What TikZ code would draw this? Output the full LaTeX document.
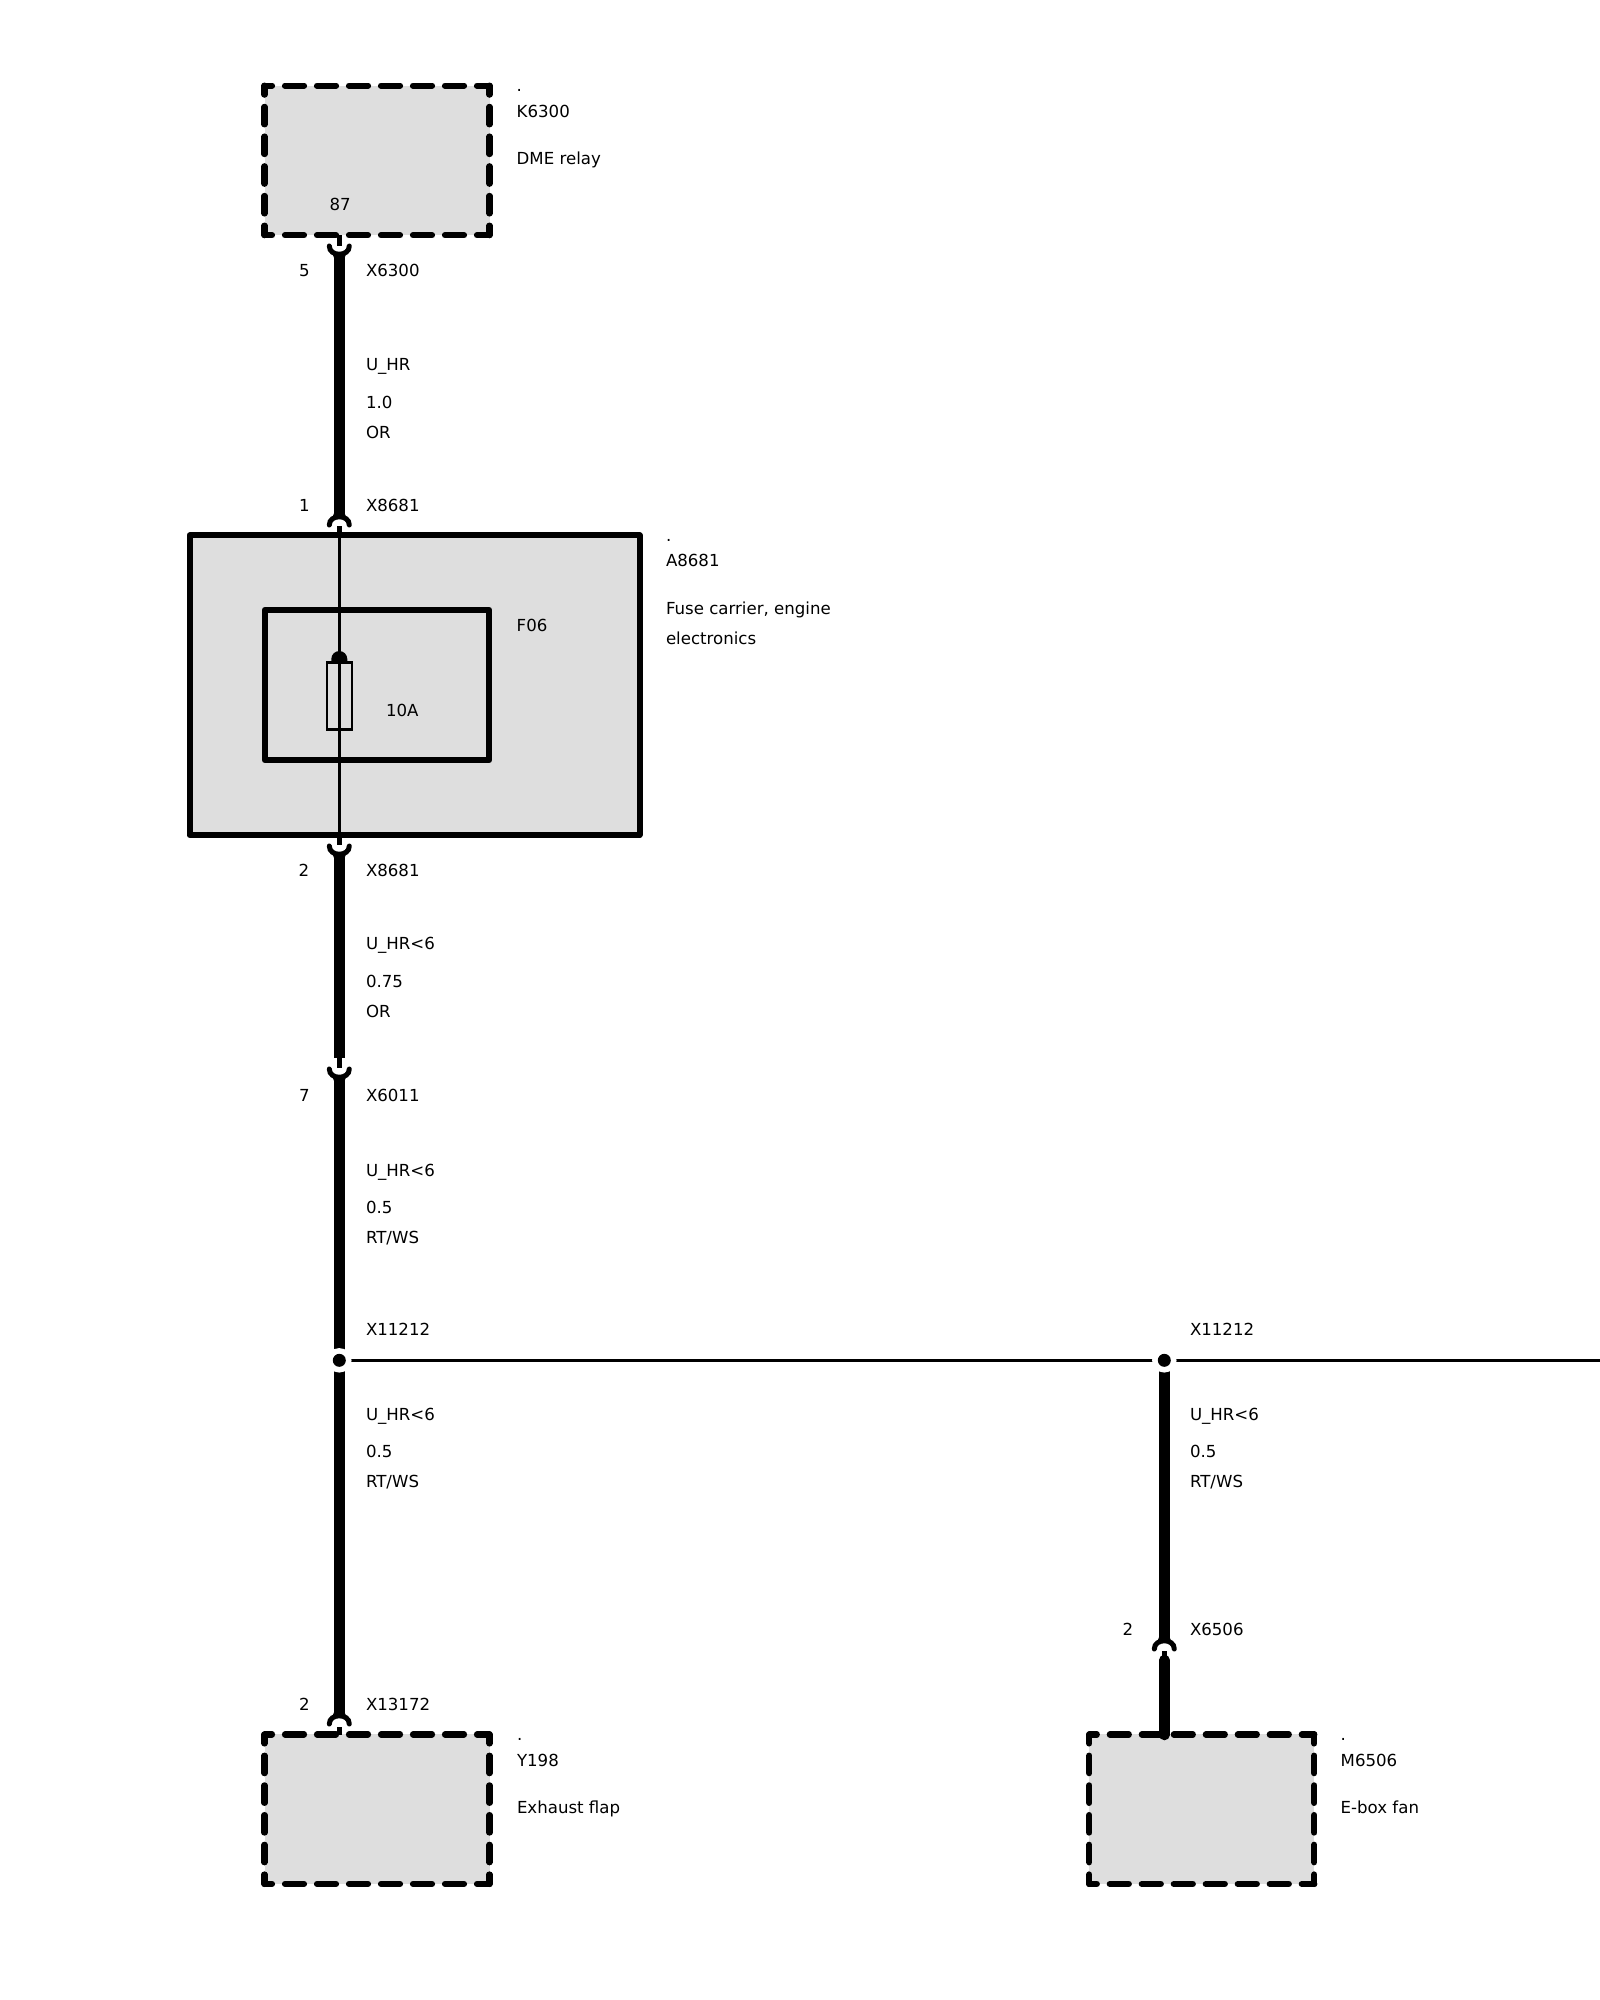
\documentclass[tikz,border=0pt]{standalone}
\usepackage{fontspec}
\setmainfont{DejaVu Sans}
\definecolor{boxgray}{HTML}{DEDEDE}
\tikzset{
  x=1pt,y=-1pt,
  lab/.style={anchor=base west,inner sep=0pt,outer sep=0pt,text=black,font=\fontsize{16.6}{20}\selectfont},
  bodyfill/.style={rectangle,fill=boxgray,draw=none,inner sep=0pt,outer sep=0pt,minimum width=225pt,minimum height=149.5pt},
  hdash/.style={line width=6.2pt,line cap=round,dash pattern=on 19pt off 13pt,dash phase=11.5pt},
  vdash/.style={line width=6.2pt,line cap=round,dash pattern=on 17.5pt off 12.2pt,dash phase=8.5pt},
  solidbox/.style={draw=black,line width=6pt,line join=round},
  thickwire/.style={line width=10.5pt,line cap=butt},
  stubwire/.style={line width=5.5pt,line cap=butt},
  thinwire/.style={line width=3.3pt,line cap=butt},
  forkline/.style={line width=5pt,line cap=round},
  halo/.style={circle,fill=white,draw=none,minimum size=24.5pt,inner sep=0pt},
  joint/.style={circle,fill=black,draw=none,minimum size=13pt,inner sep=0pt},
}
\newcommand{\dashedunit}[3]{%
  \node[bodyfill] (#1) at (#2,#3) {};
  \draw[hdash] (#1.north west) -- (#1.north east);
  \draw[hdash] (#1.south west) -- (#1.south east);
  \draw[vdash] (#1.north west) -- (#1.south west);
  \draw[vdash] (#1.north east) -- (#1.south east);
}
% fork opening downward, apex at named coordinate
\newcommand{\forkdown}[1]{%
  \draw[forkline] (#1) ++(-10,8) .. controls +(0,-11) and +(0,-11) .. +(20,0);
  \fill (#1) ++(-5.2,-4) -- ++(-1.8,4.5) -- ++(14,0) -- ++(-1.8,-4.5) -- cycle;}
% fork opening upward, apex at named coordinate
\newcommand{\forkup}[1]{%
  \draw[forkline] (#1) ++(-10,-8) .. controls +(0,11) and +(0,11) .. +(20,0);
  \fill (#1) ++(-5.2,4) -- ++(-1.8,-4.5) -- ++(14,0) -- ++(-1.8,4.5) -- cycle;}
\begin{document}
\begin{tikzpicture}
\useasboundingbox (0,0) rectangle (1600,2000);
\fill[white] (0,0) rectangle (1600,2000);

% units
\dashedunit{k}{377}{160.4}
\dashedunit{y}{377}{1809.2}
\dashedunit{m}{1201.8}{1809.2}
\node[rectangle,fill=boxgray,solidbox,minimum width=450pt,minimum height=299.5pt,inner sep=0pt,outer sep=0pt] (a) at (414.5,685.2) {};
\node[rectangle,solidbox,minimum width=224.6pt,minimum height=150pt,inner sep=0pt,outer sep=0pt] (f) at (377,685) {};

% wire coordinates
\coordinate (k0) at (339.3,235);
\coordinate (k1) at (339.3,246);
\coordinate (k2) at (339.3,254);
\coordinate (a0) at (339.3,517);
\coordinate (a1) at (339.3,526);
\coordinate (a2) at (339.3,536);
\coordinate (a3) at (339.3,836);
\coordinate (a4) at (339.3,845);
\coordinate (a5) at (339.3,854);
\coordinate (b0) at (339.3,1058);
\coordinate (b1) at (339.3,1068);
\coordinate (b2) at (339.3,1077);
\coordinate (c0) at (339.3,1716);
\coordinate (c1) at (339.3,1727);
\coordinate (c2) at (339.3,1735);
\coordinate (d0) at (1164.3,1641);
\coordinate (d1) at (1164.3,1651);
\coordinate (d2) at (1164.3,1660);
\coordinate (d3) at (1164.3,1735);
\coordinate (edge) at (1600,1360.3);
\coordinate (j1) at (339.3,1360.3);
\coordinate (j2) at (1164.3,1360.3);

% wires
\draw[stubwire] (k0) -- (k1);
\draw[thickwire] (k2) -- (a0);
\draw[thinwire] (a1) -- (a4);
\draw[stubwire] (a1) -- (a2);
\draw[stubwire] (a3) -- (a4);
\draw[thickwire] (a5) -- (b0);
\draw[stubwire] (b0) -- (b1);
\draw[thickwire] (b2) -- (j1);
\draw[thickwire] (j1) -- (c0);
\draw[stubwire] (c1) -- (c2);
\draw[thickwire] (j2) -- (d0);
\draw[stubwire] (d1) -- (d2);
\draw[thickwire,line cap=round] (d2) -- (d3);
\draw[thinwire] (j1) -- (j2);
\draw[thinwire] (j2) -- (edge);

% forks
\forkup{k2}
\forkdown{a0}
\forkup{a5}
\forkup{b2}
\forkdown{c0}
\forkdown{d0}

% junctions
\node[halo] at (j1) {};
\node[halo] at (j2) {};
\node[joint] (jd1) at (j1) {};
\node[joint] (jd2) at (j2) {};

% fuse
\fill (331.3,659) arc[start angle=180,end angle=360,radius=8] -- (347.3,663) -- (331.3,663) -- cycle;
\draw[line width=2.8pt] (327,662.7) rectangle (352,729.7);

% labels
\node[lab] (t01) at (516.7,91.7) {.};
\node[lab] (t02) at (516.7,117.3) {K6300};
\node[lab] (t03) at (516.7,164) {DME relay};
\node[lab] (t04) at (329.5,210.7) {87};
\node[lab] (t05) at (299,276) {5};
\node[lab] (t06) at (366,276) {X6300};
\node[lab] (t07) at (366,370) {U\_HR};
\node[lab] (t08) at (366,408) {1.0};
\node[lab] (t09) at (366,438) {OR};
\node[lab] (t10) at (299,511) {1};
\node[lab] (t11) at (366,511) {X8681};
\node[lab] (t12) at (666,541.5) {.};
\node[lab] (t13) at (666,566) {A8681};
\node[lab] (t14) at (666,614.5) {Fuse carrier, engine};
\node[lab] (t15) at (666,644) {electronics};
\node[lab] (t16) at (516.7,631.7) {F06};
\node[lab] (t17) at (386,716) {10A};
\node[lab] (t18) at (298.7,876) {2};
\node[lab] (t19) at (366,876) {X8681};
\node[lab] (t20) at (366,949.5) {U\_HR<6};
\node[lab] (t21) at (366,987.5) {0.75};
\node[lab] (t22) at (366,1017) {OR};
\node[lab] (t23) at (299,1101) {7};
\node[lab] (t24) at (366,1101) {X6011};
\node[lab] (t25) at (366,1176) {U\_HR<6};
\node[lab] (t26) at (366,1213.5) {0.5};
\node[lab] (t27) at (366,1243) {RT/WS};
\node[lab] (t28) at (366,1335) {X11212};
\node[lab] (t29) at (366,1420) {U\_HR<6};
\node[lab] (t30) at (366,1457) {0.5};
\node[lab] (t31) at (366,1487) {RT/WS};
\node[lab] (t32) at (1190,1335) {X11212};
\node[lab] (t33) at (1190,1420) {U\_HR<6};
\node[lab] (t34) at (1190,1457) {0.5};
\node[lab] (t35) at (1190,1487) {RT/WS};
\node[lab] (t36) at (1122.7,1635) {2};
\node[lab] (t37) at (1190,1635) {X6506};
\node[lab] (t38) at (299,1710) {2};
\node[lab] (t39) at (366,1710) {X13172};
\node[lab] (t40) at (517,1740) {.};
\node[lab] (t41) at (517,1766.5) {Y198};
\node[lab] (t42) at (517,1813) {Exhaust flap};
\node[lab] (t43) at (1340.7,1740) {.};
\node[lab] (t44) at (1340.7,1766.5) {M6506};
\node[lab] (t45) at (1340.7,1813) {E-box fan};
\end{tikzpicture}
\end{document}
